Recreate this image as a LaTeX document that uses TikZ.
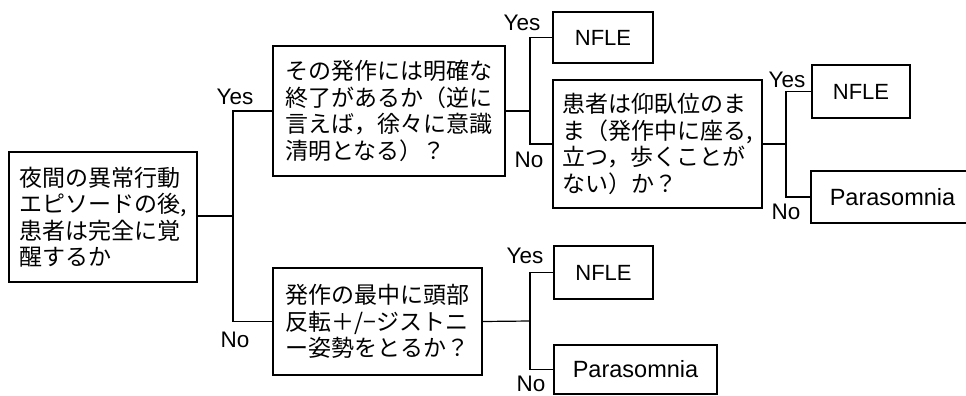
\documentclass[tikz,border=0pt]{standalone}
\usepackage{fontspec}
\setmainfont{Liberation Sans}
\newfontfamily\jpfont{Noto Sans CJK JP}
\begin{document}
\begin{tikzpicture}[x=1pt,y=-1pt,
  qbox/.style={draw, line width=1.3pt, inner sep=0pt, align=left,
    font=\jpfont\fontsize{23}{26.5}\selectfont},
  leaf/.style={draw, line width=1.3pt, inner sep=0pt,
    font=\fontsize{22}{26}\selectfont},
  wideleaf/.style={leaf, font=\fontsize{23.5}{26}\selectfont},
  lab/.style={inner sep=0pt, font=\fontsize{22.5}{26}\selectfont},
  conn/.style={line width=1.2pt}]
\useasboundingbox (0,0) rectangle (966,396);
\fill[white] (0,0) rectangle (966,396);

\node[qbox, minimum width=188pt, minimum height=130pt] (root) at (103,217)
  {夜間の異常行動\\エピソードの後,\\患者は完全に覚\\醒するか};
\node[qbox, minimum width=232pt, minimum height=130pt] (q1) at (389,111)
  {その発作には明確な\\終了があるか（逆に\\言えば，徐々に意識\\清明となる）？};
\node[qbox, minimum width=209pt, minimum height=128pt] (q2) at (657.5,144)
  {患者は仰臥位のま\\ま（発作中に座る,\\立つ，歩くことが\\ない）か？};
\node[qbox, minimum width=209pt, minimum height=107pt] (q3) at (377.5,321.5)
  {発作の最中に頭部\\反転＋/−ジストニ\\ー姿勢をとるか？};

\node[leaf, minimum width=100pt, minimum height=51pt] (n1) at (603,37.5) {NFLE};
\node[leaf, minimum width=98pt, minimum height=53pt] (n2) at (861,91.5) {NFLE};
\node[leaf, minimum width=99pt, minimum height=53pt] (n3) at (603.5,272.5) {NFLE};
\node[wideleaf, minimum width=163pt, minimum height=52pt] (p1) at (892.5,197) {Parasomnia};
\node[wideleaf, minimum width=163pt, minimum height=49pt] (p2) at (635.5,369.5) {Parasomnia};

\coordinate (j1) at (233,216);
\coordinate (j2) at (530,111);
\coordinate (j3) at (786,144);
\coordinate (j4) at (530,321);

\draw[conn] (root.east |- j1) -- (j1);
\draw[conn] (q1.west) -| (j1) |- (q3.west);
\draw[conn] (q1.east) -- (j2);
\draw[conn] (n1.west) -| (j2) |- (q2.west);
\draw[conn] (q2.east) -- (j3);
\draw[conn] (n2.west) -| (j3) |- (p1.west);
\draw[conn] (q3.east) -- (j4);
\draw[conn] (n3.west) -| (j4) |- (p2.west);

\node[lab] (yes1) at (235,97) {Yes};
\node[lab] (no1) at (235,340) {No};
\node[lab] (yes2) at (522,23) {Yes};
\node[lab] (no2) at (529,160) {No};
\node[lab] (yes3) at (787,80) {Yes};
\node[lab] (no3) at (786,212) {No};
\node[lab] (yes4) at (525,256) {Yes};
\node[lab] (no4) at (531,384) {No};
\end{tikzpicture}
\end{document}
